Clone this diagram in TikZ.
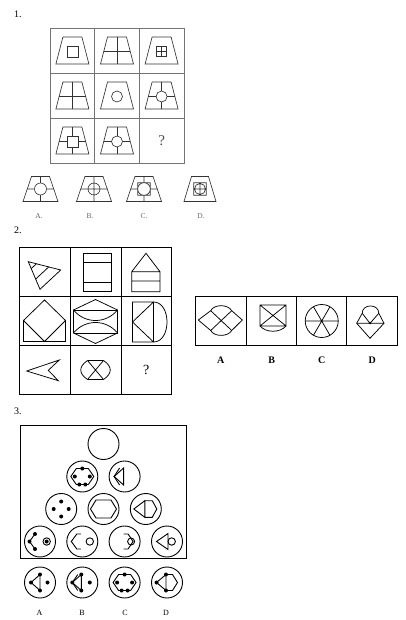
\documentclass[tikz,border=0pt]{standalone}
\usepackage{fontspec}
\setmainfont{Liberation Serif}
\usetikzlibrary{calc}
\begin{document}
\begin{tikzpicture}[x=1pt,y=-1pt,
  gridone/.style={draw=black!55, line width=0.6pt},
  figone/.style={draw=black!80, line width=0.65pt},
  gridtwo/.style={draw=black, line width=0.8pt},
  figtwo/.style={draw=black, line width=0.75pt},
  figthree/.style={draw=black, line width=0.9pt},
  numlabel/.style={font=\fontsize{10}{10}\selectfont, anchor=west, inner sep=0pt},
  optone/.style={font=\fontsize{7.5}{7.5}\selectfont, text=black!60, inner sep=0pt},
  opttwo/.style={font=\fontsize{10}{10}\selectfont\bfseries, inner sep=0pt},
  optthree/.style={font=\fontsize{8}{8}\selectfont, inner sep=0pt}]
\useasboundingbox (0,0) rectangle (406,620);
\fill[white] (0,0) rectangle (406,620);

% ================= Problem 1 =================
\node[numlabel] (n1) at (14,14) {1.};
\draw[gridone] (50,28) rectangle (184,163);
\foreach \x in {94.7,139.3} \draw[gridone] (\x,28) -- (\x,163);
\foreach \y in {73,118} \draw[gridone] (50,\y) -- (184,\y);

\newcommand\trapbig{\draw[figone] (-9.5,-13.5) -- (9.5,-13.5) -- (16.5,13.5) -- (-16.5,13.5) -- cycle;}
\newcommand\crosslines{\draw[figone] (0,-13.5) -- (0,-4.5) (0,6.5) -- (0,13.5) (-13.26,1) -- (-5.5,1) (5.5,1) -- (13.26,1);}
% row 1
\begin{scope}[shift={(72.4,50.5)}]
  \trapbig \draw[figone] (-5.5,-4.5) rectangle (5.5,6.5);
\end{scope}
\begin{scope}[shift={(117,50.5)}]
  \trapbig \draw[figone] (0,-13.5) -- (0,13.5) (-13.26,1) -- (13.26,1);
\end{scope}
\begin{scope}[shift={(161.6,50.5)}]
  \trapbig \draw[figone] (-5,-4) rectangle (5,6) (0,-4) -- (0,6) (-5,1) -- (5,1);
\end{scope}
% row 2
\begin{scope}[shift={(72.4,95.5)}]
  \trapbig \draw[figone] (0,-13.5) -- (0,13.5) (-13.26,1) -- (13.26,1);
\end{scope}
\begin{scope}[shift={(117,95.5)}]
  \trapbig \draw[figone] (0,1) circle[radius=5.5pt];
\end{scope}
\begin{scope}[shift={(161.6,95.5)}]
  \trapbig \draw[figone] (0,1) circle[radius=5.5pt]; \crosslines
\end{scope}
% row 3
\begin{scope}[shift={(72.4,140.5)}]
  \trapbig \draw[figone] (-5.5,-4.5) rectangle (5.5,6.5); \crosslines
\end{scope}
\begin{scope}[shift={(117,140.5)}]
  \trapbig \draw[figone] (0,1) circle[radius=5.5pt]; \crosslines
\end{scope}
\node[font=\fontsize{15}{15}\selectfont, text=black!70] (q1) at (161.6,141) {?};

% options
\newcommand\trapsmall{\draw[figone] (-9,-12.5) -- (9,-12.5) -- (17.5,12.5) -- (-17.5,12.5) -- cycle;}
\begin{scope}[shift={(40.5,189)}]
  \trapsmall \draw[figone] (0,0) circle[radius=6pt] (0,-12.5) -- (0,-6) (0,6) -- (0,12.5) (-13.25,0) -- (-6,0) (6,0) -- (13.25,0);
\end{scope}
\begin{scope}[shift={(94,189)}]
  \trapsmall \draw[figone] (0,0) circle[radius=6pt] (0,-12.5) -- (0,12.5) (-13.25,0) -- (13.25,0);
\end{scope}
\begin{scope}[shift={(144,189)}]
  \trapsmall \draw[figone] (0,0) circle[radius=6.3pt] (-6.3,-6.3) rectangle (6.3,6.3) (0,-12.5) -- (0,-6.3) (0,6.3) -- (0,12.5) (-13.25,0) -- (-6.3,0) (6.3,0) -- (13.25,0);
\end{scope}
\begin{scope}[shift={(200,189)}]
  \draw[figone] (-8.5,-12.5) -- (8.5,-12.5) -- (16,12.5) -- (-16,12.5) -- cycle;
  \draw[figone] (-6.3,-6.3) rectangle (6.3,6.3) (0,0) circle[radius=5.5pt] (0,-5.5) -- (0,5.5) (-5.5,0) -- (5.5,0);
\end{scope}
\node[optone] (o1a) at (39,216.5) {A.};
\node[optone] (o1b) at (90,216.5) {B.};
\node[optone] (o1c) at (144,216.5) {C.};
\node[optone] (o1d) at (201,216.5) {D.};

% ================= Problem 2 =================
\node[numlabel] (n2) at (14,230) {2.};
\draw[gridtwo] (19.3,247.3) rectangle (171.7,394.3);
\foreach \x in {70.1,120.9} \draw[gridtwo] (\x,247.3) -- (\x,394.3);
\foreach \y in {296.3,345.3} \draw[gridtwo] (19.3,\y) -- (171.7,\y);

% (1,1) triangle with stripes
\coordinate (ta) at (28.3,261.7);
\coordinate (tb) at (60.7,270);
\coordinate (tc) at (40,289.3);
\draw[figtwo] (ta) -- (tb) -- (tc) -- cycle;
\draw[figtwo] ($(ta)!0.25!(tb)$) -- ($(ta)!0.25!(tc)$);
\draw[figtwo] ($(ta)!0.63!(tb)$) -- ($(ta)!0.63!(tc)$);
% (1,2) rectangle with two lines
\draw[figtwo] (83.3,253.3) rectangle (111.7,291) (83.3,262.3) -- (111.7,262.3) (83.3,282.7) -- (111.7,282.7);
% (1,3) house
\draw[figtwo] (131.7,271.7) -- (146,253.3) -- (160,271.7) (131.7,271.7) rectangle (160,291.7) (131.7,281) -- (160,281);
% (2,1) envelope
\draw[figtwo] (44.5,300) -- (65.5,320.5) -- (44.5,341.5) -- (23.5,320.5) -- cycle;
\draw[figtwo] (23.5,320.5) -- (23.5,341.5) -- (65.5,341.5) -- (65.5,320.5);
% (2,2) hexagon with arcs
\draw[figtwo] (95.5,299.5) -- (117.5,310) -- (117.5,333) -- (95.5,343.5) -- (73.5,333) -- (73.5,310) -- cycle;
\draw[figtwo] (73.5,310) -- (117.5,310) (73.5,333) -- (117.5,333);
\draw[figtwo] (73.5,310) .. controls (85,324) and (106,324) .. (117.5,310);
\draw[figtwo] (73.5,333) .. controls (85,319) and (106,319) .. (117.5,333);
% (2,3) rectangle, triangle and arc
\draw[figtwo] (132.5,302) rectangle (153.5,342) (153.5,302) -- (132.5,322) -- (153.5,342);
\draw[figtwo] (153.5,302) .. controls (171.5,302) and (171.5,342) .. (153.5,342);
% (3,1) chevron
\draw[figtwo] (26.7,371) -- (59.3,360) -- (48.3,370.3) -- (58.3,380.7) -- cycle;
% (3,2) bow tie
\draw[figtwo] (87.5,360.5) -- (103.5,360.5) (87.5,379.5) -- (103.5,379.5) (87.5,360.5) -- (103.5,379.5) (103.5,360.5) -- (87.5,379.5);
\draw[figtwo] (87.5,360.5) .. controls (78.5,366.5) and (78.5,373.5) .. (87.5,379.5);
\draw[figtwo] (103.5,360.5) .. controls (112.5,366.5) and (112.5,373.5) .. (103.5,379.5);
\node[font=\fontsize{14}{14}\selectfont] (q2) at (146.3,370) {?};

% options box
\draw[gridtwo] (195.7,296.7) rectangle (397,345);
\foreach \x in {246,296.3,346.7} \draw[gridtwo] (\x,296.7) -- (\x,345);
% A
\draw[figtwo] (198.3,320) -- (210.7,310.7) .. controls (214,304) and (228,304) .. (231.7,310.7) -- (242.3,320) -- (231.7,330.5) .. controls (228,337) and (214,337) .. (210.7,330.5) -- cycle;
\draw[figtwo] (210.7,310.7) -- (231.7,330.5) (231.7,310.7) -- (210.7,330.5);
% B
\draw[figtwo] (260,305) rectangle (286,326) (260,305) -- (286,326) (286,305) -- (260,326);
\draw[figtwo] (260,326) .. controls (266,333) and (280,333) .. (286,326);
% C
\draw[figtwo] (321.7,321) circle[radius=16.5pt];
\draw[figtwo] (305.2,321) -- (338.2,321) (313.45,306.7) -- (329.95,335.3) (329.95,306.7) -- (313.45,335.3);
% D
\draw[figtwo] (356.7,323.3) -- (362.2,313.3) .. controls (362.2,303.5) and (378.8,303.5) .. (378.8,313.3) -- (384,323.3) -- (370,338.3) -- cycle;
\draw[figtwo] (356.7,323.3) -- (384,323.3) (362.2,313.3) -- (370,323.3) -- (378.8,313.3);
\fill (370,323.3) circle[radius=1.1pt];
\node[opttwo] (o2a) at (220.7,360) {A};
\node[opttwo] (o2b) at (271.7,360) {B};
\node[opttwo] (o2c) at (321.7,360) {C};
\node[opttwo] (o2d) at (372.3,360) {D};

% ================= Problem 3 =================
\node[numlabel] (n3) at (14,411.7) {3.};
\draw[line width=1pt] (20.7,425) rectangle (186,558.5);

\newcommand\dotat[1]{\fill #1 circle[radius=2pt];}
\newcommand\hexmid{\draw[figthree] (-11.5,0) -- (-6,-8) -- (6,-8) -- (11.5,0) -- (6,8) -- (-6,8) -- cycle;}
\newcommand\hexdots{\dotat{(0,-8)} \dotat{(-7.5,0)} \dotat{(7.5,0)} \dotat{(-3,8)} \dotat{(3,8)}}
\newcommand\ring{\draw[figthree] (0,0) circle[radius=15.5pt];}
% top
\begin{scope}[shift={(103.5,444)}]
  \ring
\end{scope}
% row 2
\begin{scope}[shift={(82.3,476.5)}]
  \ring \hexmid \hexdots
\end{scope}
\begin{scope}[shift={(124.6,476.5)}]
  \ring
  \draw[figthree] (-5,-8.5) -- (-10.5,0) -- (-5,8.5);
  \draw[figthree] (-10.5,0) -- (-1,-8.5) -- (-1,8.5) -- cycle;
\end{scope}
% row 3
\begin{scope}[shift={(61.2,509)}]
  \ring
  \dotat{(0,-7.5)} \dotat{(-7.5,0)} \dotat{(7.5,0)} \dotat{(0,7.5)}
\end{scope}
\begin{scope}[shift={(103.5,509)}]
  \ring
  \draw[figthree] (-13,0) -- (-7.5,-9) -- (7.5,-9) -- (13,0) -- (7.5,9) -- (-7.5,9) -- cycle;
\end{scope}
\begin{scope}[shift={(145.8,509)}]
  \ring
  \draw[figthree] (-12,0) -- (-1,-8.3) -- (-1,8.3) -- cycle;
  \draw[figthree] (-1,-8.3) -- (6.5,-8.3) -- (11,0) -- (6.5,8.3) -- (-1,8.3);
\end{scope}
% row 4
\begin{scope}[shift={(40,541.5)}]
  \ring
  \draw[figthree] (-5,-7.5) -- (-10.5,0) -- (-5,7.5);
  \dotat{(-5,-7.5)} \dotat{(-10.5,0)} \dotat{(-5,7.5)}
  \draw[figthree] (6.7,0) circle[radius=3.7pt]; \dotat{(6.7,0)}
\end{scope}
\begin{scope}[shift={(82.3,541.5)}]
  \ring
  \draw[figthree] (-1.5,-7.5) -- (-5.5,-7.5) -- (-11,0) -- (-5.5,7.5) -- (-1.5,7.5);
  \draw[figthree] (7.5,0) circle[radius=3.7pt];
\end{scope}
\begin{scope}[shift={(124.6,541.5)}]
  \ring
  \draw[figthree] (-1,-7.5) -- (3.5,-7.5) -- (8.5,0) -- (3.5,7.5) -- (-1,7.5);
  \draw[figthree] (6.5,0) circle[radius=3.5pt];
\end{scope}
\begin{scope}[shift={(167,541.5)}]
  \ring
  \draw[figthree] (-10.5,0) -- (1,-8) -- (1,8) -- cycle;
  \draw[figthree] (4.7,0) circle[radius=3.7pt];
\end{scope}
% options
\begin{scope}[shift={(40,582.5)}]
  \ring
  \draw[figthree] (-9,0) -- (0,-8) -- (0,8) -- cycle;
  \dotat{(-9,0)} \dotat{(0,-8)} \dotat{(0,8)} \dotat{(7.5,0)}
\end{scope}
\begin{scope}[shift={(82.3,582.5)}]
  \ring
  \draw[figthree] (-4.5,-8) -- (-10,0) -- (-4.5,8);
  \draw[figthree] (-10,0) -- (-1,-8) -- (-1,8) -- cycle;
  \dotat{(-10,0)} \dotat{(-1,-8)} \dotat{(-1,8)} \dotat{(7.5,0)}
\end{scope}
\begin{scope}[shift={(124.6,582.5)}]
  \ring \hexmid \hexdots
\end{scope}
\begin{scope}[shift={(167,582.5)}]
  \ring
  \draw[figthree] (-10.5,0) -- (-1,-8) -- (-1,8) -- cycle;
  \draw[figthree] (-1,-8) -- (5.5,-8) -- (10.5,0) -- (5.5,8) -- (-1,8);
  \dotat{(-10.5,0)} \dotat{(-1,-8)} \dotat{(-1,8)}
\end{scope}
\node[optthree] (o3a) at (39.5,612.7) {A};
\node[optthree] (o3b) at (82,612.7) {B};
\node[optthree] (o3c) at (125,612.7) {C};
\node[optthree] (o3d) at (166,612.7) {D};
\end{tikzpicture}
\end{document}
